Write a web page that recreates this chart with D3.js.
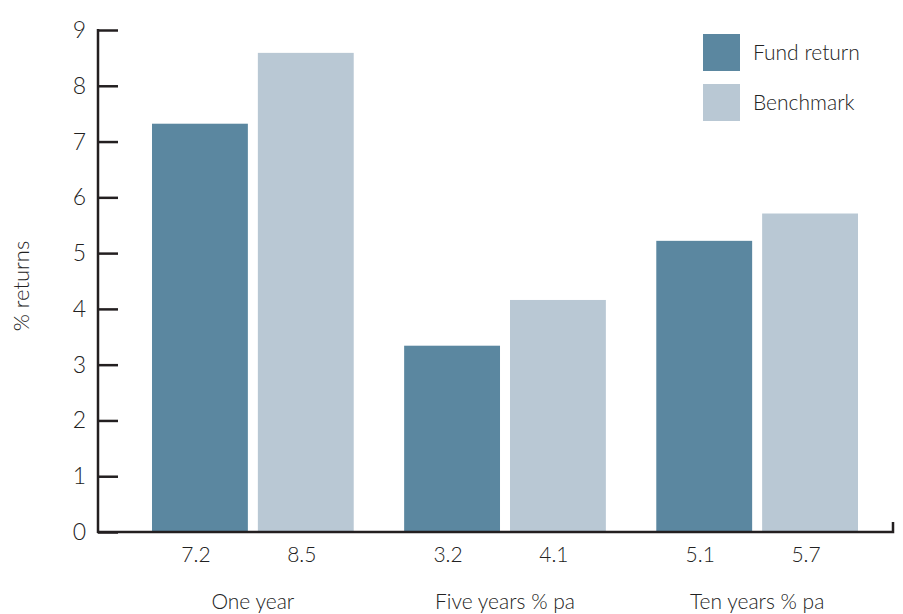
<!DOCTYPE html>
<html>
<head>
<meta charset="utf-8">
<script src="https://cdn.jsdelivr.net/npm/d3@7"></script>
<style>
  body { margin: 0; background: #fff; }
  text { font-family: Lato, "Open Sans", sans-serif; font-weight: 300; fill: #222; }
</style>
</head>
<body>
<script>
var WIDTH = 903, HEIGHT = 614;

// data
var categories = ["One year", "Five years % pa", "Ten years % pa"];
var seriesNames = ["Fund return", "Benchmark"];
var fundValues = [7.32, 3.34, 5.22];       // drawn bar heights
var benchValues = [8.59, 4.16, 5.71];
var fundLabels = ["7.2", "3.2", "5.1"];     // printed under bars
var benchLabels = ["8.5", "4.1", "5.7"];
var yTicks = [0, 1, 2, 3, 4, 5, 6, 7, 8, 9];
var colors = ["#5b87a0", "#b9c8d4"];

var rows = categories.map(function(c, i){
	return {cat: c, values: [
		{s: seriesNames[0], v: fundValues[i], label: fundLabels[i]},
		{s: seriesNames[1], v: benchValues[i], label: benchLabels[i]}
	]};
});

var svg = d3.select("body").append("svg")
	.attr("width", WIDTH)
	.attr("height", HEIGHT);

var yScale = d3.scaleLinear().domain([0, 9]).range([532, 30]);
var x0 = d3.scaleBand().domain(categories).range([152, 858])
	.paddingInner(0.2).paddingOuter(0);
var x1 = d3.scaleBand().domain(seriesNames).range([0, x0.bandwidth()])
	.paddingInner(10 / 106).paddingOuter(0);
var color = d3.scaleOrdinal().domain(seriesNames).range(colors);

// bars
var groups = svg.append("g").selectAll("g").data(rows).enter()
	.append("g")
	.attr("transform", function(d){ return "translate(" + x0(d.cat) + ",0)"; });

groups.selectAll("rect").data(function(d){ return d.values; }).enter()
	.append("rect")
	.attr("x", function(d){ return x1(d.s); })
	.attr("width", x1.bandwidth())
	.attr("y", function(d){ return yScale(d.v); })
	.attr("height", function(d){ return yScale(0) - yScale(d.v); })
	.attr("fill", function(d){ return color(d.s); });

groups.selectAll("text.val").data(function(d){ return d.values; }).enter()
	.append("text")
	.attr("class", "val")
	.attr("x", function(d){ return x1(d.s) + x1.bandwidth() / 2 - 4; })
	.attr("y", 562)
	.attr("text-anchor", "middle")
	.style("font-size", "21px")
	.text(function(d){ return d.label; });

groups.append("text")
	.attr("x", x0.bandwidth() / 2)
	.attr("y", 609)
	.attr("text-anchor", "middle")
	.style("font-size", "21px")
	.text(function(d){ return d.cat; });

// y axis
var yAxis = d3.axisRight(yScale).tickValues(yTicks).tickSize(20).tickFormat("");
var ya = svg.append("g").attr("transform", "translate(98,0)").call(yAxis);
ya.select(".domain").remove();
ya.selectAll(".tick line").attr("stroke", "#231f20").attr("stroke-width", 2.5);
svg.append("line")
	.attr("x1", 98).attr("x2", 98)
	.attr("y1", yScale(9) - 1).attr("y2", yScale(0) + 1)
	.attr("stroke", "#231f20").attr("stroke-width", 2.5);

svg.append("g").selectAll("text").data(yTicks).enter()
	.append("text")
	.attr("x", 86)
	.attr("y", function(d){ return yScale(d); })
	.attr("dy", "0.35em")
	.attr("text-anchor", "end")
	.style("font-size", "23px")
	.text(function(d){ return d; });

// x axis line with end cap
svg.append("path")
	.attr("d", "M97," + yScale(0) + "H893V" + (yScale(0) - 10))
	.attr("fill", "none")
	.attr("stroke", "#231f20").attr("stroke-width", 2.5);

// y title
svg.append("text")
	.attr("transform", "translate(29,286) rotate(-90)")
	.attr("text-anchor", "middle")
	.style("font-size", "22px")
	.text("% returns");

// legend
var legend = svg.append("g").selectAll("g").data(seriesNames).enter()
	.append("g")
	.attr("transform", function(d, i){ return "translate(703," + (34 + i * 50) + ")"; });
legend.append("rect")
	.attr("width", 37).attr("height", 37)
	.attr("fill", function(d){ return color(d); });
legend.append("text")
	.attr("x", 50).attr("y", 19)
	.attr("dy", "0.35em")
	.style("font-size", "21px")
	.text(function(d){ return d; });
</script>
</body>
</html>
